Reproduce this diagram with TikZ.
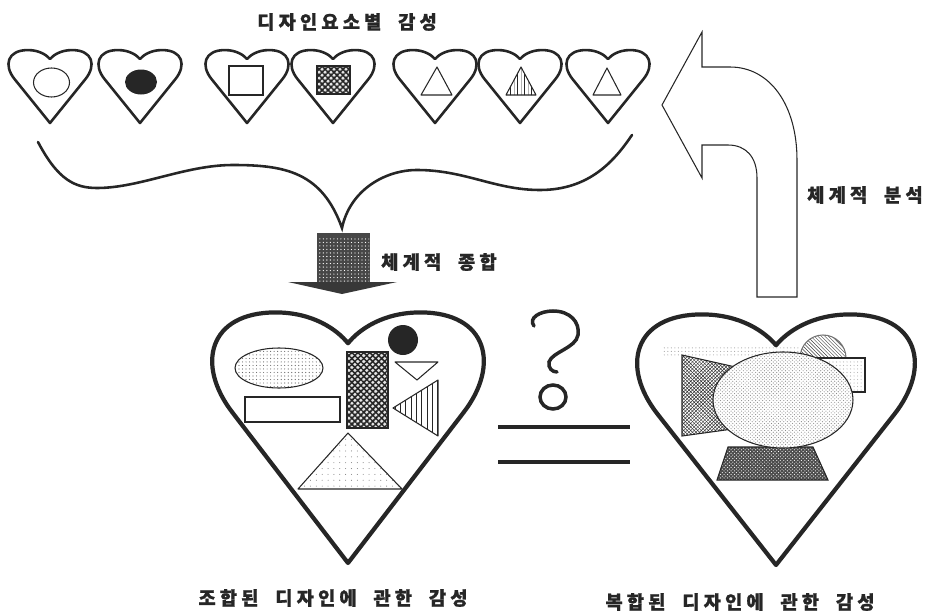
\documentclass[tikz,border=0pt]{standalone}
\usepackage{fontspec}
\newfontfamily\krfont{Noto Sans CJK KR}[LetterSpace=22,WordSpace=2,FakeBold=1]
\usetikzlibrary{patterns,patterns.meta}
\begin{document}
\begin{tikzpicture}[x=0.03cm,y=-0.03cm,
  heart/.pic={\path[pic actions] (0,0) -- (-0.86,-1.12)
      .. controls (-1.14,-1.48) and (-1.04,-1.87) .. (-0.54,-1.87)
      .. controls (-0.26,-1.87) and (-0.08,-1.74) .. (0,-1.64)
      .. controls (0.08,-1.74) and (0.26,-1.87) .. (0.54,-1.87)
      .. controls (1.04,-1.87) and (1.14,-1.48) .. (0.86,-1.12) -- cycle;},
  smallheart/.style={draw=black!85, line width=2.2pt, line join=round},
  bigheart/.style={draw=black!85, line width=3.6pt, line join=round},
  thinline/.style={draw=black!85, line width=0.9pt},
  lbl/.style={font=\krfont\bfseries\fontsize{16}{18}\selectfont, text=black!85, inner sep=0pt},
  lattice/.style={pattern={Lines[angle=45,distance=3.6pt,line width=1.3pt]}, pattern color=black!85},
  lattice2/.style={pattern={Lines[angle=-45,distance=3.6pt,line width=1.3pt]}, pattern color=black!85},
]
\useasboundingbox (0,0) rectangle (942,615);

% ---- title
\node[lbl] (title) at (347,22) {디자인요소별 감성};

% ---- small hearts
\foreach \cx in {50,140,247,333,435,520,608}
  \pic[smallheart, xscale=41, yscale=39] at (\cx,123) {heart};
% contents
\draw[thinline] (51.5,82.5) ellipse [x radius=18, y radius=14.5];
\fill[black!85] (141,82) ellipse [x radius=16, y radius=12.5];
\draw[thinline] (229,66) rectangle (263,95);
\fill[black!10] (317,66) rectangle (350,94);
\fill[lattice] (317,66) rectangle (350,94);
\fill[lattice2] (317,66) rectangle (350,94);
\draw[thinline] (317,66) rectangle (350,94);
\draw[thinline, line join=round] (437,67) -- (452,95) -- (421,95) -- cycle;
\fill[pattern=vertical lines, pattern color=black!85] (521,67) -- (536,95) -- (506,95) -- cycle;
\draw[thinline, line join=round] (521,67) -- (536,95) -- (506,95) -- cycle;
\draw[thinline, line join=round] (607,68) -- (621,95) -- (593,95) -- cycle;

% ---- brace
\draw[black!85, line width=2.2pt, line cap=round]
  (38,142) .. controls (58,180) and (75,188) .. (97,188)
  .. controls (140,188) and (185,165) .. (233,165)
  .. controls (285,165) and (322,172) .. (342,228)
  .. controls (350,190) and (385,170) .. (417,170)
  .. controls (465,170) and (495,190) .. (540,190)
  .. controls (590,190) and (615,160) .. (632,135);

% ---- synthesis arrow (down)
\fill[black!72] (317,233) rectangle (370,282);
\fill[pattern={Dots[distance=3pt,radius=0.55pt]}, pattern color=white] (318,236) rectangle (369,281);
\fill[black!78] (288,282) -- (397,282) -- (342,294) -- cycle;
\node[lbl, anchor=west] (synth) at (381,262) {체계적 종합};

% ---- analysis arrow (up-turn)
\draw[thinline, line join=miter]
  (757,297) -- (757,178) .. controls (757,157) and (746,145) .. (728,145)
  -- (702,145) -- (702,178) -- (662,105) -- (702,32) -- (702,67) -- (730,67)
  .. controls (770,67) and (797,105) .. (797,160) -- (797,297) -- cycle;
\node[lbl, anchor=west] (anal) at (807,195) {체계적 분석};

% ---- left big heart contents
\fill[pattern=dots, pattern color=black!60] (279,368) ellipse [x radius=44, y radius=20];
\draw[thinline] (279,368) ellipse [x radius=44, y radius=20];
\draw[thinline] (245,397) rectangle (340,422);
\fill[black!10] (347,352) rectangle (388,428);
\fill[lattice] (347,352) rectangle (388,428);
\fill[lattice2] (347,352) rectangle (388,428);
\draw[thinline] (347,352) rectangle (388,428);
\fill[black!85] (403,340) circle [radius=15];
\draw[thinline, line join=round] (395,362) -- (438,362) -- (417,380) -- cycle;
\fill[pattern={Lines[angle=90,distance=4.5pt,line width=0.8pt]}, pattern color=black!85] (393,408) -- (438,380) -- (438,436) -- cycle;
\draw[thinline, line join=round] (393,408) -- (438,380) -- (438,436) -- cycle;
\fill[pattern={Dots[distance=5pt,radius=0.45pt]}, pattern color=black!50] (348,433) -- (402,489) -- (298,489) -- cycle;
\draw[thinline, line join=round] (348,433) -- (402,489) -- (298,489) -- cycle;
\pic[bigheart, xscale=134, yscale=134] at (348,563) {heart};
\node[lbl] (lefttxt) at (333,598) {조합된 디자인에 관한 감성};

% ---- question / equals
\draw[black!85, line width=3pt, line cap=round]
  (534,326) .. controls (528,318) and (540,311) .. (553,311)
  .. controls (570,311) and (580,322) .. (578,335)
  .. controls (576,348) and (552,352) .. (549,362)
  .. controls (548,368) and (552,372) .. (557,372);
\draw[black!85, line width=3pt] (553,397) ellipse [x radius=13, y radius=12];
\draw[black!85, line width=4.2pt] (498,427) -- (630,427);
\draw[black!85, line width=4.2pt] (498,462) -- (630,462);

% ---- right big heart contents
\fill[pattern=dots, pattern color=black!35] (663,346) rectangle (800,356);
\fill[pattern=north west lines, pattern color=black!75] (800,358) arc[start angle=180, end angle=360, radius=23] -- cycle;
\draw[thinline, black!55] (800,358) arc[start angle=180, end angle=360, radius=23];
\fill[white] (805,358) rectangle (865,392);
\fill[pattern=dots, pattern color=black!30] (805,358) rectangle (865,392);
\draw[thinline] (805,358) rectangle (865,392);
\fill[pattern=crosshatch, pattern color=black!80] (682,355) -- (740,368) -- (740,428) -- (682,436) -- cycle;
\draw[thinline] (682,355) -- (740,368) -- (740,428) -- (682,436) -- cycle;
\fill[black!70] (728,447) -- (813,447) -- (828,480) -- (717,480) -- cycle;
\fill[pattern=crosshatch dots, pattern color=white] (728,447) -- (813,447) -- (828,480) -- (717,480) -- cycle;
\draw[thinline] (728,447) -- (813,447) -- (828,480) -- (717,480) -- cycle;
\fill[white] (783,400) ellipse [x radius=70, y radius=48];
\fill[pattern=crosshatch dots, pattern color=black!45] (783,400) ellipse [x radius=70, y radius=48];
\draw[thinline] (783,400) ellipse [x radius=70, y radius=48];
\pic[bigheart, xscale=137, yscale=134] at (776,565) {heart};
\node[lbl] (righttxt) at (740,602) {복합된 디자인에 관한 감성};
\end{tikzpicture}
\end{document}
